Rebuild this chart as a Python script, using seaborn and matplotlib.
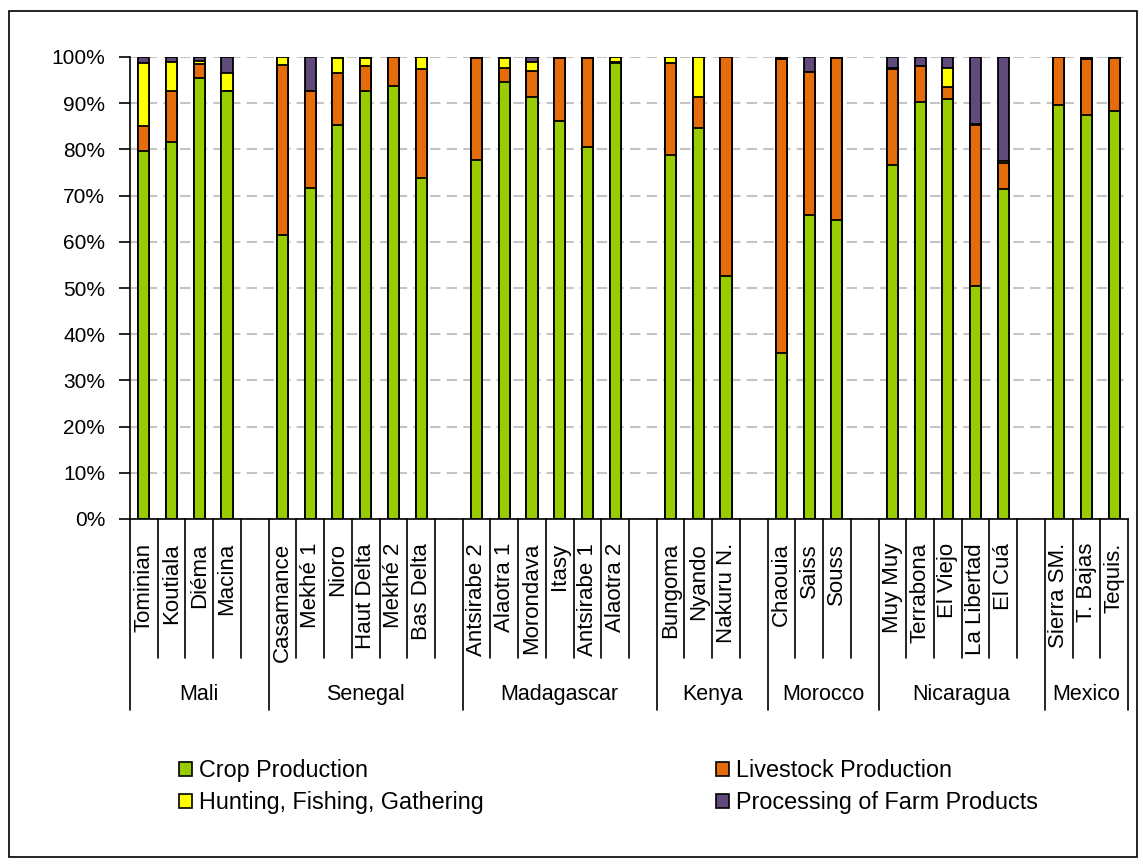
import numpy as np
import pandas as pd
import matplotlib
matplotlib.use("Agg")
import matplotlib.pyplot as plt
import seaborn as sns
from matplotlib.patches import Patch, Rectangle
from matplotlib.ticker import FuncFormatter

# ---------------- data ----------------
countries = ["Mali", "Senegal", "Madagascar", "Kenya", "Morocco", "Nicaragua", "Mexico"]
sites_per_country = [4, 6, 6, 3, 3, 5, 3]
sites = ["Tominian", "Koutiala", "Diéma", "Macina",
         "Casamance", "Mekhé 1", "Nioro", "Haut Delta", "Mekhé 2", "Bas Delta",
         "Antsirabe 2", "Alaotra 1", "Morondava", "Itasy", "Antsirabe 1", "Alaotra 2",
         "Bungoma", "Nyando", "Nakuru N.",
         "Chaouia", "Saiss", "Souss",
         "Muy Muy", "Terrabona", "El Viejo", "La Libertad", "El Cuá",
         "Sierra SM.", "T. Bajas", "Tequis."]
crop = [79.7, 81.7, 95.4, 92.7,
        61.5, 71.7, 85.3, 92.7, 93.7, 73.8,
        77.7, 94.5, 91.4, 86.1, 80.6, 98.6,
        78.8, 84.7, 52.6,
        35.9, 65.8, 64.7,
        76.6, 90.3, 90.9, 50.5, 71.4,
        89.6, 87.4, 88.3]
livestock = [5.4, 11.0, 3.1, 0.0,
             36.8, 21.0, 11.3, 5.3, 6.3, 23.5,
             22.1, 3.2, 5.6, 13.7, 19.2, 0.3,
             20.0, 6.7, 47.4,
             63.6, 30.9, 35.0,
             20.8, 7.7, 2.5, 34.8, 5.7,
             10.4, 12.1, 11.4]
hunting = [13.5, 6.2, 0.6, 3.9,
           1.7, 0.0, 3.2, 1.8, 0.0, 2.7,
           0.0, 2.0, 2.0, 0.0, 0.0, 1.1,
           1.2, 8.6, 0.0,
           0.0, 0.0, 0.0,
           0.3, 0.0, 4.2, 0.2, 0.3,
           0.0, 0.1, 0.0]
processing = [1.4, 1.1, 0.9, 3.4,
              0.0, 7.3, 0.2, 0.2, 0.0, 0.0,
              0.2, 0.3, 1.0, 0.2, 0.2, 0.0,
              0.0, 0.0, 0.0,
              0.5, 3.3, 0.3,
              2.3, 2.0, 2.4, 14.5, 22.6,
              0.0, 0.4, 0.3]
series_names = ["Crop Production", "Livestock Production",
                "Hunting, Fishing, Gathering", "Processing of Farm Products"]
series_colors = ["#99CC00", "#E46C0A", "#FFFF00", "#604A7B"]
y_ticks = list(range(0, 101, 10))

# ---------------- layout of category slots ----------------
positions = []
group_bounds = [-0.5]
group_centers = []
p = 0
for gi, n in enumerate(sites_per_country):
    start = p
    positions.extend(range(p, p + n))
    p += n
    if gi < len(sites_per_country) - 1:
        p += 1  # blank slot after the group
    group_bounds.append(p - 0.5)
    group_centers.append((start - 0.5 + p - 0.5) / 2)
n_slots = p

df = pd.DataFrame({"pos": positions, "site": sites, "crop": crop,
                   "livestock": livestock, "hunting": hunting, "processing": processing})
df["c1"] = df["crop"]
df["c2"] = df["c1"] + df["livestock"]
df["c3"] = df["c2"] + df["hunting"]
df["c4"] = df["c3"] + df["processing"]

# ---------------- figure ----------------
sns.set_style("white")
plt.rcParams["font.family"] = ["Liberation Sans", "DejaVu Sans"]
plt.rcParams["text.color"] = "black"
plt.rcParams["axes.labelcolor"] = "black"
plt.rcParams["xtick.color"] = "black"
plt.rcParams["ytick.color"] = "black"

W, H = 1143, 867
fig = plt.figure(figsize=(W / 100, H / 100), dpi=100)
ax = fig.add_axes([130 / W, 1 - 519 / H, 998 / W, 462 / H])

for col, color in [("c4", series_colors[3]), ("c3", series_colors[2]),
                   ("c2", series_colors[1]), ("c1", series_colors[0])]:
    sns.barplot(data=df, x="pos", y=col, native_scale=True, color=color,
                saturation=1, width=0.4, edgecolor="black", linewidth=1.3,
                errorbar=None, ax=ax)

ax.set_xlim(-0.5, n_slots - 0.5)
ax.set_ylim(0, 100)
ax.set_xticks([])
ax.set_xlabel("")
ax.set_ylabel("")
ax.set_yticks(y_ticks)
ax.yaxis.set_major_formatter(FuncFormatter(lambda v, _: f"{int(v)}%"))
ax.tick_params(axis="y", direction="out", length=8, width=1.2, pad=10,
               labelsize=15, left=True, color="black", labelcolor="black")
ax.yaxis.grid(True, linestyle=(0, (5, 3)), color="#C4C4C4", linewidth=1.5)
ax.set_axisbelow(True)
for s in ["top", "right"]:
    ax.spines[s].set_visible(False)
for s in ["left", "bottom"]:
    ax.spines[s].set_color("black")
    ax.spines[s].set_linewidth(1.2)

# multi-level category axis
trans = ax.get_xaxis_transform()
ax_h = 462.0
short_y = -(658 - 519) / ax_h
long_y = -(710 - 519) / ax_h
for b in np.arange(-0.5, n_slots, 1.0):
    is_group = any(abs(b - g) < 1e-6 for g in group_bounds)
    ax.plot([b, b], [0, long_y if is_group else short_y], color="black",
            lw=1.2, transform=trans, clip_on=False)
for x, name in zip(positions, sites):
    ax.text(x, -(543 - 519) / ax_h, name, rotation=90, ha="center", va="top",
            fontsize=16, color="black", transform=trans)
for x, name in zip(group_centers, countries):
    ax.text(x, -(695 - 519) / ax_h, name, ha="center", va="center",
            fontsize=15.5, color="black", transform=trans)

# legend in two columns
handles = [Patch(facecolor=c, edgecolor="black", linewidth=1.2) for c in series_colors]
leg_kw = dict(loc="upper left", frameon=False, borderpad=0, borderaxespad=0,
              handlelength=0.55, handleheight=0.55, handletextpad=0.3,
              labelspacing=0.38, fontsize=16.8, labelcolor="black")
fig.legend([handles[0], handles[2]], [series_names[0], series_names[2]],
           bbox_to_anchor=(179 / W, 1 - 759 / H), **leg_kw)
fig.legend([handles[1], handles[3]], [series_names[1], series_names[3]],
           bbox_to_anchor=(716 / W, 1 - 759 / H), **leg_kw)

# outer frame
fig.add_artist(Rectangle((9 / W, 1 - 857 / H), (1137 - 9) / W, (857 - 11) / H,
                         transform=fig.transFigure, fill=False,
                         edgecolor="black", linewidth=1.2))

fig.savefig("out.png", dpi=100)
